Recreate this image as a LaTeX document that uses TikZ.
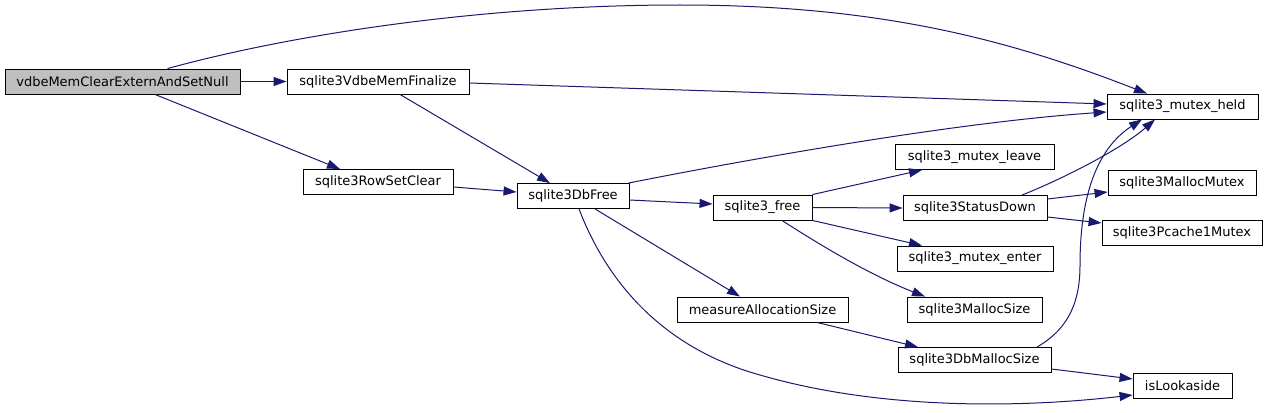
\documentclass[tikz,border=0pt]{standalone}
\usepackage{fontspec}
\setmainfont{DejaVu Sans}
\usetikzlibrary{arrows.meta}
\definecolor{edgeblue}{RGB}{25,25,112}
\definecolor{rootgray}{RGB}{191,191,191}
\begin{document}
\begin{tikzpicture}[x=1pt,y=-1pt,
  fn/.style={draw=black, line width=0.9pt, fill=white, minimum height=25pt, inner sep=0pt, font=\fontsize{13}{15}\selectfont, text=black},
  call/.style={draw=edgeblue, line width=1pt, -{Triangle[length=13pt,width=9pt,fill=edgeblue]}}]
\useasboundingbox (0,0) rectangle (1268,412);
\node[fn, fill=rootgray, minimum width=235pt] (vdbe) at (122.5,81.5) {vdbeMemClearExternAndSetNull};
\node[fn, minimum width=182pt] (fin) at (378,81.5) {sqlite3VdbeMemFinalize};
\node[fn, minimum width=151pt] (held) at (1182.5,106.5) {sqlite3\_mutex\_held};
\node[fn, minimum width=150pt] (rsc) at (378,182) {sqlite3RowSetClear};
\node[fn, minimum width=112pt] (dbfree) at (573,196) {sqlite3DbFree};
\node[fn, minimum width=99pt] (free) at (762.5,207.5) {sqlite3\_free};
\node[fn, minimum width=159pt] (leave) at (974.5,157) {sqlite3\_mutex\_leave};
\node[fn, minimum width=144pt] (status) at (975,208) {sqlite3StatusDown};
\node[fn, minimum width=148pt] (mmutex) at (1182,182.5) {sqlite3MallocMutex};
\node[fn, minimum width=160pt] (pcache) at (1182,233) {sqlite3Pcache1Mutex};
\node[fn, minimum width=156pt] (enter) at (975,258.5) {sqlite3\_mutex\_enter};
\node[fn, minimum width=171pt] (measure) at (762.5,309.5) {measureAllocationSize};
\node[fn, minimum width=135pt] (msize) at (974.5,309.5) {sqlite3MallocSize};
\node[fn, minimum width=153pt] (dbmsize) at (974.5,360) {sqlite3DbMallocSize};
\node[fn, minimum width=99pt] (look) at (1182.5,385.5) {isLookaside};

\draw[call] ([xshift=45pt]vdbe.north) .. controls (290,35) and (480,5) .. (680,5) .. controls (880,5) and (1010,40) .. ([xshift=-35.5pt]held.north);
\draw[call] (vdbe.east) -- (fin.west);
\draw[call] ([xshift=32.5pt]vdbe.south) -- ([xshift=-38pt]rsc.north);
\draw[call] ([yshift=-1.5pt]fin.east) -- ([yshift=2.5pt]held.west);
\draw[call] ([xshift=22pt]fin.south) -- ([xshift=-23pt]dbfree.north);
\draw[call] ([yshift=-5pt]rsc.east) -- ([yshift=4pt]dbfree.west);
\draw[call] ([xshift=-1pt]dbfree.north east) .. controls (760,157) and (960,122) .. ([yshift=-5.5pt]held.west);
\draw[call] ([yshift=-4pt]dbfree.east) -- ([yshift=3.5pt]free.west);
\draw[call] ([xshift=22pt]dbfree.south) -- ([xshift=-22.5pt]measure.north);
\draw[call] ([xshift=6pt]dbfree.south) .. controls (610,290) and (670,350) .. (760,375) .. controls (880,410) and (1020,408) .. ([yshift=-9.5pt]look.west);
\draw[call] (free.north east) -- ([xshift=-52.5pt]leave.south);
\draw[call] (free.east) -- (status.west);
\draw[call] (free.south east) -- ([xshift=-53pt]enter.north);
\draw[call] ([xshift=19.5pt]free.south) .. controls (820,245) and (870,275) .. ([xshift=-49.5pt]msize.north);
\draw[call] ([xshift=47pt]status.north) .. controls (1060,180) and (1120,150) .. ([xshift=-27.5pt]held.south);
\draw[call] ([yshift=9pt]status.east) -- ([yshift=-9.5pt]mmutex.west);
\draw[call] ([yshift=-9pt]status.east) -- ([yshift=10pt]pcache.west);
\draw[call] ([xshift=54.5pt]measure.south) -- ([xshift=-56.5pt]dbmsize.north);
\draw[call] ([xshift=62.5pt]dbmsize.north) .. controls (1070,328) and (1080,300) .. (1080,265) .. controls (1080,200) and (1095,150) .. ([xshift=-40.5pt]held.south);
\draw[call] ([yshift=-9pt]dbmsize.east) -- ([yshift=6.5pt]look.west);
\end{tikzpicture}
\end{document}
